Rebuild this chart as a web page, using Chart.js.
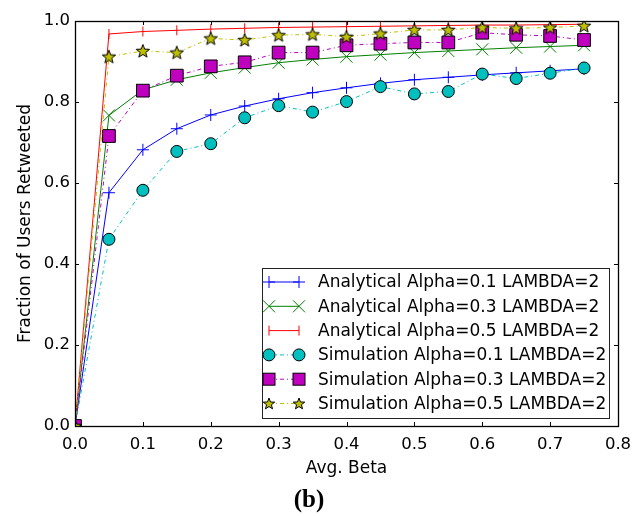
<!DOCTYPE html>
<html>
<head>
<meta charset="utf-8">
<script src="https://cdn.jsdelivr.net/npm/chart.js@4.4.0/dist/chart.umd.min.js"></script>
<style>
  html, body { margin: 0; padding: 0; background: #fff; }
  #wrap { width: 633px; height: 516px; }
</style>
</head>
<body>
<div id="wrap"><canvas id="chart" width="633" height="516"></canvas></div>
<script>
// x values (Avg. Beta)
const beta = [0, 0.05, 0.1, 0.15, 0.2, 0.25, 0.3, 0.35, 0.4, 0.45, 0.5, 0.55, 0.6, 0.65, 0.7, 0.75];

// analytical curves
const analytic01 = [0, 0.576, 0.682, 0.734, 0.768, 0.790, 0.808, 0.823, 0.835, 0.846, 0.855, 0.861, 0.867, 0.872, 0.877, 0.882];
const analytic03 = [0, 0.767, 0.830, 0.855, 0.872, 0.885, 0.897, 0.905, 0.912, 0.917, 0.922, 0.926, 0.930, 0.934, 0.937, 0.940];
const analytic05 = [0, 0.968, 0.974, 0.977, 0.980, 0.982, 0.984, 0.985, 0.986, 0.987, 0.988, 0.989, 0.990, 0.990, 0.991, 0.992];

// simulation results
const sim01 = [0, 0.461, 0.582, 0.678, 0.697, 0.761, 0.791, 0.775, 0.801, 0.838, 0.820, 0.826, 0.869, 0.858, 0.871, 0.884];
const sim03 = [0, 0.716, 0.828, 0.865, 0.888, 0.898, 0.922, 0.922, 0.940, 0.944, 0.947, 0.947, 0.971, 0.966, 0.963, 0.953];
const sim05 = [0, 0.912, 0.926, 0.922, 0.957, 0.953, 0.965, 0.967, 0.961, 0.969, 0.978, 0.978, 0.984, 0.982, 0.984, 0.988];

const xTicks = [0, 0.1, 0.2, 0.3, 0.4, 0.5, 0.6, 0.7, 0.8];
const yTicks = [0, 0.2, 0.4, 0.6, 0.8, 1.0];

const seriesLabels = [
    'Analytical Alpha=0.1 LAMBDA=2',
    'Analytical Alpha=0.3 LAMBDA=2',
    'Analytical Alpha=0.5 LAMBDA=2',
    'Simulation Alpha=0.1 LAMBDA=2',
    'Simulation Alpha=0.3 LAMBDA=2',
    'Simulation Alpha=0.5 LAMBDA=2',
];

const FONT = 'DejaVu Sans';
const dashDot = [4, 3, 1, 3];

// filled star marker, matplotlib style
const makeStar = (size, fill) => {
    const c = document.createElement('canvas');
    c.width = size;
    c.height = size;
    const g = c.getContext('2d');
    drawStar(g, size / 2, size / 2 + 0.5, size / 2 - 1, fill);
    return c;
};

function drawStar(g, cx, cy, r, fill) {
    const inner = r * 0.42;
    g.beginPath();
    for (let i = 0; i < 10; i++) {
        const rad = i % 2 === 0 ? r : inner;
        const a = -Math.PI / 2 + i * Math.PI / 5;
        const px = cx + rad * Math.cos(a);
        const py = cy + rad * Math.sin(a);
        if (i === 0) g.moveTo(px, py); else g.lineTo(px, py);
    }
    g.closePath();
    g.fillStyle = fill;
    g.fill();
    g.strokeStyle = '#000';
    g.lineWidth = 1;
    g.stroke();
}

const starImg = makeStar(16, '#bfbf00');

const toPoints = (arr) => beta.map((b, i) => ({ x: b, y: arr[i] }));

const datasets = [
    {
        label: seriesLabels[0], data: toPoints(analytic01),
        borderColor: '#0000ff', borderWidth: 1,
        pointStyle: 'cross', pointRadius: 6, pointBorderColor: '#0000ff', pointBorderWidth: 1,
        mark: 'plus', order: 6,
    },
    {
        label: seriesLabels[1], data: toPoints(analytic03),
        borderColor: '#008000', borderWidth: 1,
        pointStyle: 'crossRot', pointRadius: 8.5, pointBorderColor: '#008000', pointBorderWidth: 1,
        mark: 'x', order: 5,
    },
    {
        label: seriesLabels[2], data: toPoints(analytic05),
        borderColor: '#ff0000', borderWidth: 1,
        pointStyle: 'line', pointRotation: 90, pointRadius: 5, pointBorderColor: '#ff0000', pointBorderWidth: 1,
        mark: 'vline', order: 4,
    },
    {
        label: seriesLabels[3], data: toPoints(sim01),
        borderColor: '#00bfbf', borderWidth: 1, borderDash: dashDot,
        pointStyle: 'circle', pointRadius: 6, pointBackgroundColor: '#00bfbf', pointBorderColor: '#000', pointBorderWidth: 1,
        mark: 'circle', order: 3,
    },
    {
        label: seriesLabels[4], data: toPoints(sim03),
        borderColor: '#bf00bf', borderWidth: 1, borderDash: dashDot,
        pointStyle: 'rect', pointRadius: 9, pointBackgroundColor: '#bf00bf', pointBorderColor: '#000', pointBorderWidth: 1,
        mark: 'square', order: 2,
    },
    {
        label: seriesLabels[5], data: toPoints(sim05),
        borderColor: '#bfbf00', borderWidth: 1, borderDash: dashDot,
        pointStyle: starImg, pointRadius: 8,
        mark: 'star', order: 1,
    },
];

// legend sample markers
function drawMark(g, ds, x, y) {
    g.save();
    g.setLineDash([]);
    g.lineWidth = 1;
    const col = ds.borderColor;
    if (ds.mark === 'plus') {
        g.strokeStyle = col;
        g.beginPath();
        g.moveTo(x - 6, y); g.lineTo(x + 6, y);
        g.moveTo(x, y - 6); g.lineTo(x, y + 6);
        g.stroke();
    } else if (ds.mark === 'x') {
        g.strokeStyle = col;
        g.beginPath();
        g.moveTo(x - 6, y - 6); g.lineTo(x + 6, y + 6);
        g.moveTo(x - 6, y + 6); g.lineTo(x + 6, y - 6);
        g.stroke();
    } else if (ds.mark === 'vline') {
        g.strokeStyle = col;
        g.beginPath();
        g.moveTo(x, y - 5); g.lineTo(x, y + 5);
        g.stroke();
    } else if (ds.mark === 'circle') {
        g.beginPath();
        g.arc(x, y, 6, 0, Math.PI * 2);
        g.fillStyle = col; g.fill();
        g.strokeStyle = '#000'; g.stroke();
    } else if (ds.mark === 'square') {
        g.fillStyle = col;
        g.fillRect(x - 6, y - 6, 12, 12);
        g.strokeStyle = '#000';
        g.strokeRect(x - 6, y - 6, 12, 12);
    } else if (ds.mark === 'star') {
        drawStar(g, x, y + 0.5, 6, col);
    }
    g.restore();
}

const framePlugin = {
    id: 'frame',
    afterDraw(chart) {
        const g = chart.ctx;
        const a = chart.chartArea;
        const xs = chart.scales.x;
        const ys = chart.scales.y;
        g.save();
        g.strokeStyle = '#000';
        g.lineWidth = 1;
        g.beginPath();
        // inward ticks on all four sides
        xTicks.forEach((v) => {
            const px = Math.round(xs.getPixelForValue(v)) + 0.5;
            g.moveTo(px, a.bottom); g.lineTo(px, a.bottom - 4);
            g.moveTo(px, a.top); g.lineTo(px, a.top + 4);
        });
        yTicks.forEach((v) => {
            const py = Math.round(ys.getPixelForValue(v)) + 0.5;
            g.moveTo(a.left, py); g.lineTo(a.left + 4, py);
            g.moveTo(a.right, py); g.lineTo(a.right - 4, py);
        });
        g.stroke();
        g.lineWidth = 1.3;
        g.strokeRect(Math.round(a.left) + 0.5, Math.round(a.top) + 0.5,
            Math.round(a.right - a.left), Math.round(a.bottom - a.top));

        // legend box in the lower right
        const box = { left: 262.5, top: 268.5, width: 347, height: 150 };
        g.fillStyle = '#fff';
        g.fillRect(box.left, box.top, box.width, box.height);
        g.strokeStyle = '#222';
        g.lineWidth = 1;
        g.strokeRect(box.left, box.top, box.width, box.height);
        g.font = '17px "' + FONT + '"';
        g.textBaseline = 'middle';
        g.textAlign = 'left';
        datasets.forEach((ds, i) => {
            const y = 282 + i * 24.3;
            g.save();
            g.strokeStyle = ds.borderColor;
            g.lineWidth = 1;
            g.setLineDash(ds.borderDash || []);
            g.beginPath();
            g.moveTo(269, y); g.lineTo(299, y);
            g.stroke();
            g.restore();
            drawMark(g, ds, 269, y);
            drawMark(g, ds, 299, y);
            g.fillStyle = '#000';
            g.fillText(ds.label, 318, y + 1);
        });
        g.restore();
    },
};

new Chart(document.getElementById('chart'), {
    type: 'line',
    data: { datasets },
    plugins: [framePlugin],
    options: {
        responsive: false,
        animation: false,
        layout: { padding: { top: 21, right: 15, left: 0, bottom: 0 } },
        plugins: {
            legend: { display: false },
            tooltip: { enabled: false },
            title: {
                display: true,
                position: 'bottom',
                text: '(b)',
                color: '#000',
                font: { family: 'Liberation Serif', size: 25, weight: 'bold', lineHeight: 1.2 },
                padding: { top: 0, bottom: 0 },
            },
        },
        scales: {
            x: {
                type: 'linear',
                min: 0,
                max: 0.8,
                afterFit: (scale) => {
                    scale.height = 60;
                    scale.paddingLeft = 0;
                    scale.paddingRight = 0;
                },
                afterBuildTicks: (scale) => { scale.ticks = xTicks.map((v) => ({ value: v })); },
                grid: { display: false, drawTicks: false },
                border: { display: false },
                ticks: {
                    padding: 9,
                    color: '#000',
                    font: { family: FONT, size: 16.5 },
                    callback: (v) => Number(v).toFixed(1),
                },
                title: {
                    display: true,
                    text: 'Avg. Beta',
                    color: '#000',
                    font: { family: FONT, size: 17 },
                    padding: { top: 0, bottom: 7 },
                },
            },
            y: {
                type: 'linear',
                min: 0,
                max: 1,
                afterFit: (scale) => { scale.width = 75; },
                afterBuildTicks: (scale) => { scale.ticks = yTicks.map((v) => ({ value: v })); },
                grid: { display: false, drawTicks: false },
                border: { display: false },
                ticks: {
                    padding: 5,
                    color: '#000',
                    font: { family: FONT, size: 16.5 },
                    callback: (v) => Number(v).toFixed(1),
                },
                title: {
                    display: true,
                    text: 'Fraction of Users Retweeted',
                    color: '#000',
                    font: { family: FONT, size: 17 },
                    padding: { top: 15, bottom: 0 },
                },
            },
        },
    },
});
</script>
</body>
</html>
